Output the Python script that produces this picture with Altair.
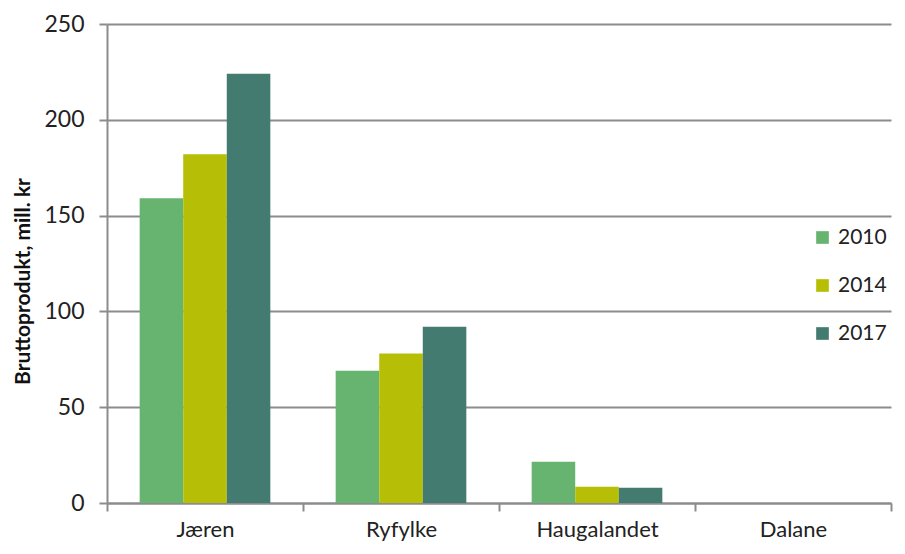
import altair as alt
import pandas as pd

regions = ["Jæren", "Ryfylke", "Haugalandet", "Dalane"]
years = ["2010", "2014", "2017"]
v2010 = [159, 69, 21.5, 0]
v2014 = [182, 78, 8.5, 0]
v2017 = [224, 92, 8, 0]
colors = ["#66B46F", "#B6BF06", "#437B70"]

rows = []
for i, r in enumerate(regions):
    for y, vals in zip(years, [v2010, v2014, v2017]):
        rows.append({"region": r, "year": y, "value": vals[i]})
df = pd.DataFrame(rows)

FONT = "Lato"
GRID = "#8C8C8C"

chart = alt.Chart(df).mark_bar().encode(
    x=alt.X("region:N", sort=regions, title=None,
            scale=alt.Scale(paddingInner=0, paddingOuter=0),
            axis=alt.Axis(tickBand="extent", labelAngle=0, labelFontSize=22,
                          labelFont=FONT, labelColor="#222222", labelPadding=8,
                          tickSize=8, tickColor=GRID, tickWidth=2,
                          domainColor=GRID, domainWidth=2, grid=False)),
    xOffset=alt.XOffset("year:N", sort=years,
                        scale=alt.Scale(paddingInner=0, paddingOuter=0.75)),
    y=alt.Y("value:Q", title="Bruttoprodukt, mill. kr",
            scale=alt.Scale(domain=[0, 250], nice=False),
            axis=alt.Axis(values=[0, 50, 100, 150, 200, 250], labelFontSize=23,
                          labelFont=FONT, labelColor="#222222", labelPadding=15,
                          tickSize=8, tickColor=GRID, tickWidth=2,
                          domainColor=GRID, domainWidth=2,
                          gridColor=GRID, gridWidth=2,
                          titleFont=FONT, titleFontSize=21, titleFontWeight="bold",
                          titleColor="#111111", titleX=-84, titleY=257,
                          titleAngle=-90, titleAlign="center", titleBaseline="middle")),
    color=alt.Color("year:N", sort=years,
                    scale=alt.Scale(domain=years, range=colors),
                    legend=alt.Legend(title=None, orient="none", legendX=705, legendY=203,
                                      symbolType="square", symbolSize=160,
                                      symbolStrokeWidth=0, labelFont=FONT,
                                      labelFontSize=21, labelColor="#222222",
                                      rowPadding=26, labelOffset=5)),
).properties(
    width=784, height=479,
    padding={"left": 99, "top": 16, "right": 6, "bottom": 40},
    autosize=alt.AutoSizeParams(type="none"),
).configure_view(stroke=None)

chart.save("out.html", embed_options={"renderer": "svg", "actions": False})
